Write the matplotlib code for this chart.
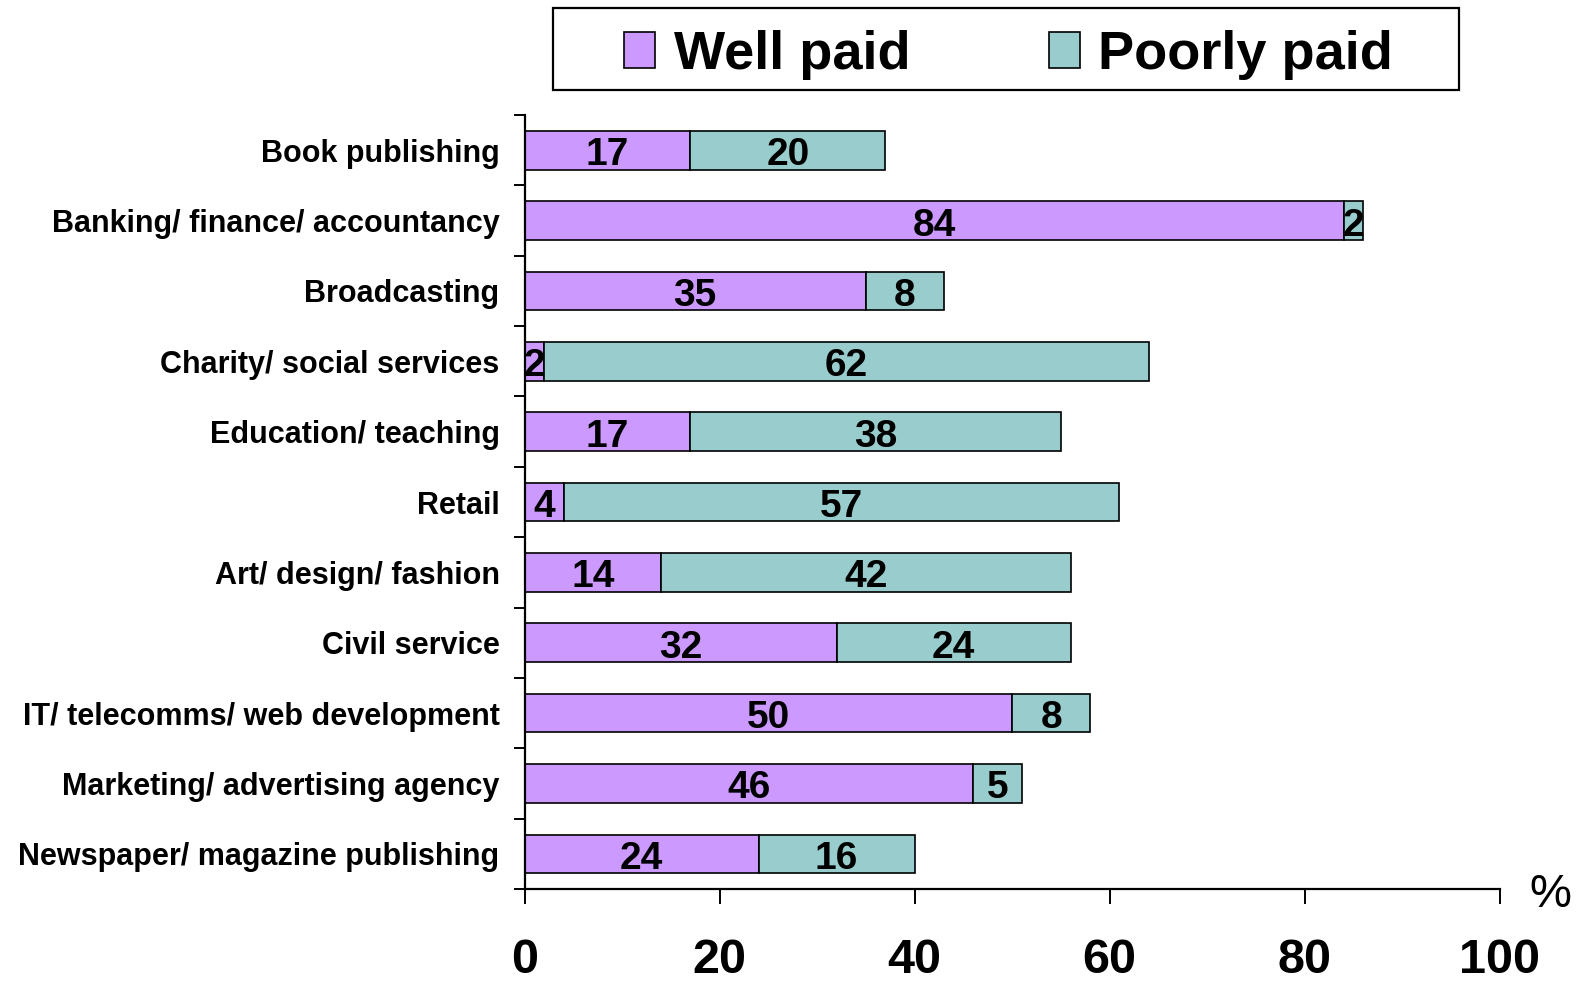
import matplotlib
matplotlib.use("Agg")
import matplotlib.pyplot as plt
from matplotlib.patches import Rectangle
import numpy as np

categories = [
    "Book publishing",
    "Banking/ finance/ accountancy",
    "Broadcasting",
    "Charity/ social services",
    "Education/ teaching",
    "Retail",
    "Art/ design/ fashion",
    "Civil service",
    "IT/ telecomms/ web development",
    "Marketing/ advertising agency",
    "Newspaper/ magazine publishing",
]
well_paid = [17, 84, 35, 2, 17, 4, 14, 32, 50, 46, 24]
poorly_paid = [20, 2, 8, 62, 38, 57, 42, 24, 8, 5, 16]
x_ticks = [0, 20, 40, 60, 80, 100]

plt.rcParams["font.family"] = ["Liberation Sans", "DejaVu Sans"]

fig = plt.figure(figsize=(15.91, 9.84), dpi=100)
ax = fig.add_axes([0.3297, 0.0965, 0.6129, 0.7866])

y = np.arange(len(categories))
purple = "#CC99FF"
teal = "#99CCCC"

b1 = ax.barh(y, well_paid, height=0.55, color=purple, edgecolor="black",
             linewidth=1.2, label="Well paid")
b2 = ax.barh(y, poorly_paid, left=well_paid, height=0.55, color=teal,
             edgecolor="black", linewidth=1.2, label="Poorly paid")

# value labels sit a touch below the bar centre in the original
for i in range(len(categories)):
    ax.text(well_paid[i] / 2, y[i] + 0.07, str(well_paid[i]), ha="center",
            va="center", fontsize=28, fontweight="bold")
    ax.text(well_paid[i] + poorly_paid[i] / 2, y[i] + 0.07, str(poorly_paid[i]),
            ha="center", va="center", fontsize=28, fontweight="bold")

ax.set_ylim(len(categories) - 0.5, -0.5)
ax.set_xlim(0, 100)

ax.set_yticks(y)
ax.set_yticklabels(categories, fontsize=22, fontweight="bold")
ax.set_yticks(np.arange(-0.5, len(categories), 1.0), minor=True)
ax.tick_params(axis="y", which="major", length=0, pad=18)
ax.tick_params(axis="y", which="minor", length=8, width=1.4, direction="out")

ax.set_xticks(x_ticks)
ax.set_xticklabels([str(v) for v in x_ticks], fontsize=35, fontweight="bold")
ax.tick_params(axis="x", which="major", length=11, width=1.4, direction="out", pad=24)

for s in ["top", "right"]:
    ax.spines[s].set_visible(False)
for s in ["left", "bottom"]:
    ax.spines[s].set_linewidth(1.6)

ax.text(105.2, -0.008, "%", transform=ax.get_xaxis_transform(), fontsize=34,
        ha="center", va="center")

leg = fig.legend(handles=[b1, b2], loc="center", bbox_to_anchor=(0.634, 0.944),
                 ncol=2, frameon=False, prop={"size": 39, "weight": "bold"},
                 handlelength=0.57, handleheight=0.63, handletextpad=0.35,
                 columnspacing=2.55, borderpad=0.0)

fig.patches.append(Rectangle((553 / 1591, 1 - 90 / 984), 906 / 1591, 82 / 984,
                             transform=fig.transFigure, fill=False,
                             edgecolor="black", linewidth=1.6))

fig.savefig("out.png", dpi=100)
